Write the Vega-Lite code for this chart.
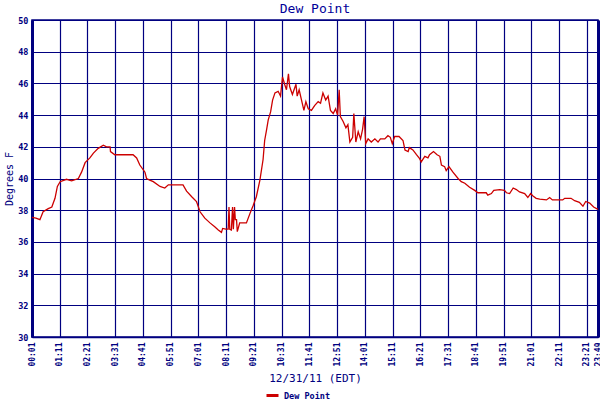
{
  "$schema": "https://vega.github.io/schema/vega-lite/v6.json",
  "description": "Dew Point, 12/31/11",
  "autosize": "none",
  "width": 566,
  "height": 317,
  "padding": {"left": 32, "top": 20, "right": 2, "bottom": 63},
  "background": "white",
  "config": {
    "view": {"stroke": "#000080", "strokeWidth": 1.5},
    "font": "DejaVu Sans Mono"
  },
  "title": {
    "text": "Dew Point",
    "font": "DejaVu Sans Mono",
    "fontSize": 13,
    "fontWeight": "normal",
    "color": "#000099",
    "anchor": "middle",
    "offset": 0
  },
  "data": {
    "values": [
      {"minute": 1, "dewpoint": 37.55, "series": "Dew Point"},
      {"minute": 11, "dewpoint": 37.5, "series": "Dew Point"},
      {"minute": 21, "dewpoint": 37.4, "series": "Dew Point"},
      {"minute": 29, "dewpoint": 37.9, "series": "Dew Point"},
      {"minute": 42, "dewpoint": 38.1, "series": "Dew Point"},
      {"minute": 51, "dewpoint": 38.2, "series": "Dew Point"},
      {"minute": 59, "dewpoint": 38.75, "series": "Dew Point"},
      {"minute": 65, "dewpoint": 39.5, "series": "Dew Point"},
      {"minute": 72, "dewpoint": 39.8, "series": "Dew Point"},
      {"minute": 88, "dewpoint": 39.95, "series": "Dew Point"},
      {"minute": 101, "dewpoint": 39.85, "series": "Dew Point"},
      {"minute": 118, "dewpoint": 40.0, "series": "Dew Point"},
      {"minute": 126, "dewpoint": 40.4, "series": "Dew Point"},
      {"minute": 135, "dewpoint": 41.0, "series": "Dew Point"},
      {"minute": 147, "dewpoint": 41.3, "series": "Dew Point"},
      {"minute": 156, "dewpoint": 41.6, "series": "Dew Point"},
      {"minute": 168, "dewpoint": 41.9, "series": "Dew Point"},
      {"minute": 181, "dewpoint": 42.1, "series": "Dew Point"},
      {"minute": 189, "dewpoint": 42.0, "series": "Dew Point"},
      {"minute": 198, "dewpoint": 42.0, "series": "Dew Point"},
      {"minute": 199, "dewpoint": 41.7, "series": "Dew Point"},
      {"minute": 210, "dewpoint": 41.5, "series": "Dew Point"},
      {"minute": 256, "dewpoint": 41.5, "series": "Dew Point"},
      {"minute": 265, "dewpoint": 41.3, "series": "Dew Point"},
      {"minute": 273, "dewpoint": 40.85, "series": "Dew Point"},
      {"minute": 286, "dewpoint": 40.4, "series": "Dew Point"},
      {"minute": 290, "dewpoint": 40.0, "series": "Dew Point"},
      {"minute": 298, "dewpoint": 39.9, "series": "Dew Point"},
      {"minute": 307, "dewpoint": 39.8, "series": "Dew Point"},
      {"minute": 324, "dewpoint": 39.5, "series": "Dew Point"},
      {"minute": 336, "dewpoint": 39.4, "series": "Dew Point"},
      {"minute": 345, "dewpoint": 39.6, "series": "Dew Point"},
      {"minute": 382, "dewpoint": 39.6, "series": "Dew Point"},
      {"minute": 391, "dewpoint": 39.2, "series": "Dew Point"},
      {"minute": 404, "dewpoint": 38.85, "series": "Dew Point"},
      {"minute": 416, "dewpoint": 38.55, "series": "Dew Point"},
      {"minute": 425, "dewpoint": 37.9, "series": "Dew Point"},
      {"minute": 437, "dewpoint": 37.5, "series": "Dew Point"},
      {"minute": 450, "dewpoint": 37.2, "series": "Dew Point"},
      {"minute": 462, "dewpoint": 36.95, "series": "Dew Point"},
      {"minute": 471, "dewpoint": 36.75, "series": "Dew Point"},
      {"minute": 479, "dewpoint": 36.6, "series": "Dew Point"},
      {"minute": 482, "dewpoint": 36.85, "series": "Dew Point"},
      {"minute": 490, "dewpoint": 36.8, "series": "Dew Point"},
      {"minute": 496, "dewpoint": 36.8, "series": "Dew Point"},
      {"minute": 498, "dewpoint": 38.2, "series": "Dew Point"},
      {"minute": 500, "dewpoint": 36.8, "series": "Dew Point"},
      {"minute": 504, "dewpoint": 36.75, "series": "Dew Point"},
      {"minute": 507, "dewpoint": 38.2, "series": "Dew Point"},
      {"minute": 509, "dewpoint": 36.8, "series": "Dew Point"},
      {"minute": 512, "dewpoint": 38.2, "series": "Dew Point"},
      {"minute": 514, "dewpoint": 37.4, "series": "Dew Point"},
      {"minute": 517, "dewpoint": 37.4, "series": "Dew Point"},
      {"minute": 519, "dewpoint": 36.65, "series": "Dew Point"},
      {"minute": 525, "dewpoint": 37.2, "series": "Dew Point"},
      {"minute": 542, "dewpoint": 37.2, "series": "Dew Point"},
      {"minute": 551, "dewpoint": 37.8, "series": "Dew Point"},
      {"minute": 559, "dewpoint": 38.3, "series": "Dew Point"},
      {"minute": 567, "dewpoint": 38.85, "series": "Dew Point"},
      {"minute": 576, "dewpoint": 39.9, "series": "Dew Point"},
      {"minute": 584, "dewpoint": 41.2, "series": "Dew Point"},
      {"minute": 588, "dewpoint": 42.4, "series": "Dew Point"},
      {"minute": 593, "dewpoint": 43.1, "series": "Dew Point"},
      {"minute": 597, "dewpoint": 43.7, "series": "Dew Point"},
      {"minute": 603, "dewpoint": 44.2, "series": "Dew Point"},
      {"minute": 608, "dewpoint": 44.95, "series": "Dew Point"},
      {"minute": 614, "dewpoint": 45.4, "series": "Dew Point"},
      {"minute": 622, "dewpoint": 45.5, "series": "Dew Point"},
      {"minute": 628, "dewpoint": 45.2, "series": "Dew Point"},
      {"minute": 633, "dewpoint": 46.4, "series": "Dew Point"},
      {"minute": 639, "dewpoint": 45.9, "series": "Dew Point"},
      {"minute": 643, "dewpoint": 45.6, "series": "Dew Point"},
      {"minute": 648, "dewpoint": 46.6, "series": "Dew Point"},
      {"minute": 651, "dewpoint": 45.8, "series": "Dew Point"},
      {"minute": 658, "dewpoint": 45.3, "series": "Dew Point"},
      {"minute": 667, "dewpoint": 45.95, "series": "Dew Point"},
      {"minute": 670, "dewpoint": 45.2, "series": "Dew Point"},
      {"minute": 675, "dewpoint": 45.6, "series": "Dew Point"},
      {"minute": 681, "dewpoint": 44.95, "series": "Dew Point"},
      {"minute": 687, "dewpoint": 44.3, "series": "Dew Point"},
      {"minute": 692, "dewpoint": 44.85, "series": "Dew Point"},
      {"minute": 698, "dewpoint": 44.4, "series": "Dew Point"},
      {"minute": 706, "dewpoint": 44.3, "series": "Dew Point"},
      {"minute": 714, "dewpoint": 44.6, "series": "Dew Point"},
      {"minute": 723, "dewpoint": 44.85, "series": "Dew Point"},
      {"minute": 729, "dewpoint": 44.75, "series": "Dew Point"},
      {"minute": 735, "dewpoint": 45.4, "series": "Dew Point"},
      {"minute": 742, "dewpoint": 44.95, "series": "Dew Point"},
      {"minute": 748, "dewpoint": 45.2, "series": "Dew Point"},
      {"minute": 754, "dewpoint": 44.3, "series": "Dew Point"},
      {"minute": 761, "dewpoint": 44.1, "series": "Dew Point"},
      {"minute": 767, "dewpoint": 44.4, "series": "Dew Point"},
      {"minute": 772, "dewpoint": 44.0, "series": "Dew Point"},
      {"minute": 776, "dewpoint": 45.6, "series": "Dew Point"},
      {"minute": 779, "dewpoint": 43.9, "series": "Dew Point"},
      {"minute": 786, "dewpoint": 43.6, "series": "Dew Point"},
      {"minute": 793, "dewpoint": 43.2, "series": "Dew Point"},
      {"minute": 798, "dewpoint": 43.4, "series": "Dew Point"},
      {"minute": 803, "dewpoint": 42.3, "series": "Dew Point"},
      {"minute": 810, "dewpoint": 42.6, "series": "Dew Point"},
      {"minute": 813, "dewpoint": 44.1, "series": "Dew Point"},
      {"minute": 818, "dewpoint": 42.3, "series": "Dew Point"},
      {"minute": 824, "dewpoint": 42.95, "series": "Dew Point"},
      {"minute": 830, "dewpoint": 42.5, "series": "Dew Point"},
      {"minute": 835, "dewpoint": 43.1, "series": "Dew Point"},
      {"minute": 839, "dewpoint": 43.9, "series": "Dew Point"},
      {"minute": 843, "dewpoint": 42.2, "series": "Dew Point"},
      {"minute": 849, "dewpoint": 42.5, "series": "Dew Point"},
      {"minute": 857, "dewpoint": 42.3, "series": "Dew Point"},
      {"minute": 866, "dewpoint": 42.5, "series": "Dew Point"},
      {"minute": 874, "dewpoint": 42.3, "series": "Dew Point"},
      {"minute": 880, "dewpoint": 42.5, "series": "Dew Point"},
      {"minute": 891, "dewpoint": 42.5, "series": "Dew Point"},
      {"minute": 899, "dewpoint": 42.7, "series": "Dew Point"},
      {"minute": 905, "dewpoint": 42.6, "series": "Dew Point"},
      {"minute": 910, "dewpoint": 42.2, "series": "Dew Point"},
      {"minute": 916, "dewpoint": 42.65, "series": "Dew Point"},
      {"minute": 927, "dewpoint": 42.65, "series": "Dew Point"},
      {"minute": 937, "dewpoint": 42.4, "series": "Dew Point"},
      {"minute": 942, "dewpoint": 41.8, "series": "Dew Point"},
      {"minute": 950, "dewpoint": 41.7, "series": "Dew Point"},
      {"minute": 953, "dewpoint": 41.95, "series": "Dew Point"},
      {"minute": 962, "dewpoint": 41.8, "series": "Dew Point"},
      {"minute": 971, "dewpoint": 41.5, "series": "Dew Point"},
      {"minute": 979, "dewpoint": 41.25, "series": "Dew Point"},
      {"minute": 983, "dewpoint": 41.05, "series": "Dew Point"},
      {"minute": 992, "dewpoint": 41.4, "series": "Dew Point"},
      {"minute": 1000, "dewpoint": 41.3, "series": "Dew Point"},
      {"minute": 1004, "dewpoint": 41.5, "series": "Dew Point"},
      {"minute": 1014, "dewpoint": 41.7, "series": "Dew Point"},
      {"minute": 1023, "dewpoint": 41.5, "series": "Dew Point"},
      {"minute": 1030, "dewpoint": 41.4, "series": "Dew Point"},
      {"minute": 1034, "dewpoint": 40.85, "series": "Dew Point"},
      {"minute": 1042, "dewpoint": 40.75, "series": "Dew Point"},
      {"minute": 1046, "dewpoint": 40.5, "series": "Dew Point"},
      {"minute": 1053, "dewpoint": 40.75, "series": "Dew Point"},
      {"minute": 1063, "dewpoint": 40.4, "series": "Dew Point"},
      {"minute": 1076, "dewpoint": 40.0, "series": "Dew Point"},
      {"minute": 1084, "dewpoint": 39.8, "series": "Dew Point"},
      {"minute": 1093, "dewpoint": 39.7, "series": "Dew Point"},
      {"minute": 1105, "dewpoint": 39.45, "series": "Dew Point"},
      {"minute": 1118, "dewpoint": 39.25, "series": "Dew Point"},
      {"minute": 1126, "dewpoint": 39.1, "series": "Dew Point"},
      {"minute": 1147, "dewpoint": 39.1, "series": "Dew Point"},
      {"minute": 1151, "dewpoint": 38.95, "series": "Dew Point"},
      {"minute": 1160, "dewpoint": 39.05, "series": "Dew Point"},
      {"minute": 1166, "dewpoint": 39.25, "series": "Dew Point"},
      {"minute": 1181, "dewpoint": 39.3, "series": "Dew Point"},
      {"minute": 1193, "dewpoint": 39.25, "series": "Dew Point"},
      {"minute": 1198, "dewpoint": 39.1, "series": "Dew Point"},
      {"minute": 1206, "dewpoint": 39.05, "series": "Dew Point"},
      {"minute": 1215, "dewpoint": 39.4, "series": "Dew Point"},
      {"minute": 1223, "dewpoint": 39.3, "series": "Dew Point"},
      {"minute": 1231, "dewpoint": 39.15, "series": "Dew Point"},
      {"minute": 1244, "dewpoint": 39.05, "series": "Dew Point"},
      {"minute": 1252, "dewpoint": 38.8, "series": "Dew Point"},
      {"minute": 1259, "dewpoint": 39.05, "series": "Dew Point"},
      {"minute": 1265, "dewpoint": 38.9, "series": "Dew Point"},
      {"minute": 1273, "dewpoint": 38.75, "series": "Dew Point"},
      {"minute": 1282, "dewpoint": 38.7, "series": "Dew Point"},
      {"minute": 1299, "dewpoint": 38.65, "series": "Dew Point"},
      {"minute": 1307, "dewpoint": 38.8, "series": "Dew Point"},
      {"minute": 1314, "dewpoint": 38.65, "series": "Dew Point"},
      {"minute": 1340, "dewpoint": 38.65, "series": "Dew Point"},
      {"minute": 1345, "dewpoint": 38.75, "series": "Dew Point"},
      {"minute": 1361, "dewpoint": 38.75, "series": "Dew Point"},
      {"minute": 1370, "dewpoint": 38.6, "series": "Dew Point"},
      {"minute": 1382, "dewpoint": 38.5, "series": "Dew Point"},
      {"minute": 1391, "dewpoint": 38.25, "series": "Dew Point"},
      {"minute": 1398, "dewpoint": 38.55, "series": "Dew Point"},
      {"minute": 1408, "dewpoint": 38.45, "series": "Dew Point"},
      {"minute": 1418, "dewpoint": 38.2, "series": "Dew Point"},
      {"minute": 1429, "dewpoint": 38.05, "series": "Dew Point"}
    ]
  },
  "resolve": {"axis": {"y": "independent"}},
  "layer": [
    {
      "mark": {"type": "line", "strokeWidth": 1.3},
      "encoding": {
        "x": {
          "field": "minute",
          "type": "quantitative",
          "scale": {"domain": [1, 1429], "nice": false, "zero": false},
          "axis": {
            "title": "12/31/11 (EDT)",
            "titleFont": "DejaVu Sans Mono",
            "titleFontSize": 11,
            "titleFontWeight": "normal",
            "titleColor": "#000080",
            "titlePadding": 6,
            "values": [1, 71, 141, 211, 281, 351, 421, 491, 561, 631, 701, 771, 841, 911, 981, 1051, 1121, 1191, 1261, 1331, 1401, 1429],
            "labelExpr": "(datum.value < 600 ? '0' : '') + floor(datum.value / 60) + ':' + (datum.value % 60 < 10 ? '0' : '') + (datum.value % 60)",
            "labelAngle": -90,
            "labelFont": "DejaVu Sans Mono",
            "labelFontSize": 8,
            "labelFontWeight": "bold",
            "labelColor": "#000080",
            "labelPadding": 5,
            "labelOverlap": false,
            "labelBound": false,
            "labelFlush": false,
            "labelSeparation": 0,
            "ticks": false,
            "grid": true,
            "gridColor": "#000080",
            "gridOpacity": 1,
            "gridWidth": 1.2,
            "domainColor": "#000080",
            "domainWidth": 1.5
          }
        },
        "y": {
          "field": "dewpoint",
          "type": "quantitative",
          "scale": {"domain": [30, 50], "nice": false, "zero": false},
          "axis": {
            "title": "Degrees F",
            "titleFont": "DejaVu Sans Mono",
            "titleFontSize": 10,
            "titleFontWeight": "normal",
            "titleColor": "#000080",
            "titlePadding": 3,
            "values": [30, 32, 34, 36, 38, 40, 42, 44, 46, 48, 50],
            "labelFont": "DejaVu Sans Mono",
            "labelFontSize": 8.5,
            "labelFontWeight": "bold",
            "labelColor": "#000080",
            "labelPadding": 4,
            "ticks": false,
            "grid": true,
            "gridColor": "#000080",
            "gridOpacity": 1,
            "gridWidth": 1.2,
            "domainColor": "#000080",
            "domainWidth": 3
          }
        },
        "color": {
          "field": "series",
          "type": "nominal",
          "scale": {"range": ["#CC0000"]},
          "legend": {
            "title": null,
            "orient": "none",
            "legendX": 233,
            "legendY": 368,
            "symbolType": "stroke",
            "symbolSize": 144,
            "symbolStrokeWidth": 3,
            "labelFont": "DejaVu Sans Mono",
            "labelFontSize": 8.5,
            "labelFontWeight": "bold",
            "labelColor": "#000080",
            "labelOffset": 4
          }
        }
      }
    },
    {
      "mark": {"type": "line", "opacity": 0},
      "encoding": {
        "x": {
          "field": "minute",
          "type": "quantitative",
          "axis": {
            "title": "12/31/11 (EDT)",
            "titleFont": "DejaVu Sans Mono",
            "titleFontSize": 11,
            "titleFontWeight": "normal",
            "titleColor": "#000080",
            "titlePadding": 6,
            "values": [1, 71, 141, 211, 281, 351, 421, 491, 561, 631, 701, 771, 841, 911, 981, 1051, 1121, 1191, 1261, 1331, 1401, 1429],
            "labelExpr": "(datum.value < 600 ? '0' : '') + floor(datum.value / 60) + ':' + (datum.value % 60 < 10 ? '0' : '') + (datum.value % 60)",
            "labelAngle": -90,
            "labelFont": "DejaVu Sans Mono",
            "labelFontSize": 8,
            "labelFontWeight": "bold",
            "labelColor": "#000080",
            "labelPadding": 5,
            "labelOverlap": false,
            "labelBound": false,
            "labelFlush": false,
            "labelSeparation": 0,
            "ticks": false,
            "grid": true,
            "gridColor": "#000080",
            "gridOpacity": 1,
            "gridWidth": 1.2,
            "domainColor": "#000080",
            "domainWidth": 1.5
          }
        },
        "y": {
          "field": "dewpoint",
          "type": "quantitative",
          "axis": {
            "orient": "right",
            "title": null,
            "labels": false,
            "ticks": false,
            "grid": false,
            "domainColor": "#000080",
            "domainWidth": 3
          }
        }
      }
    }
  ]
}
